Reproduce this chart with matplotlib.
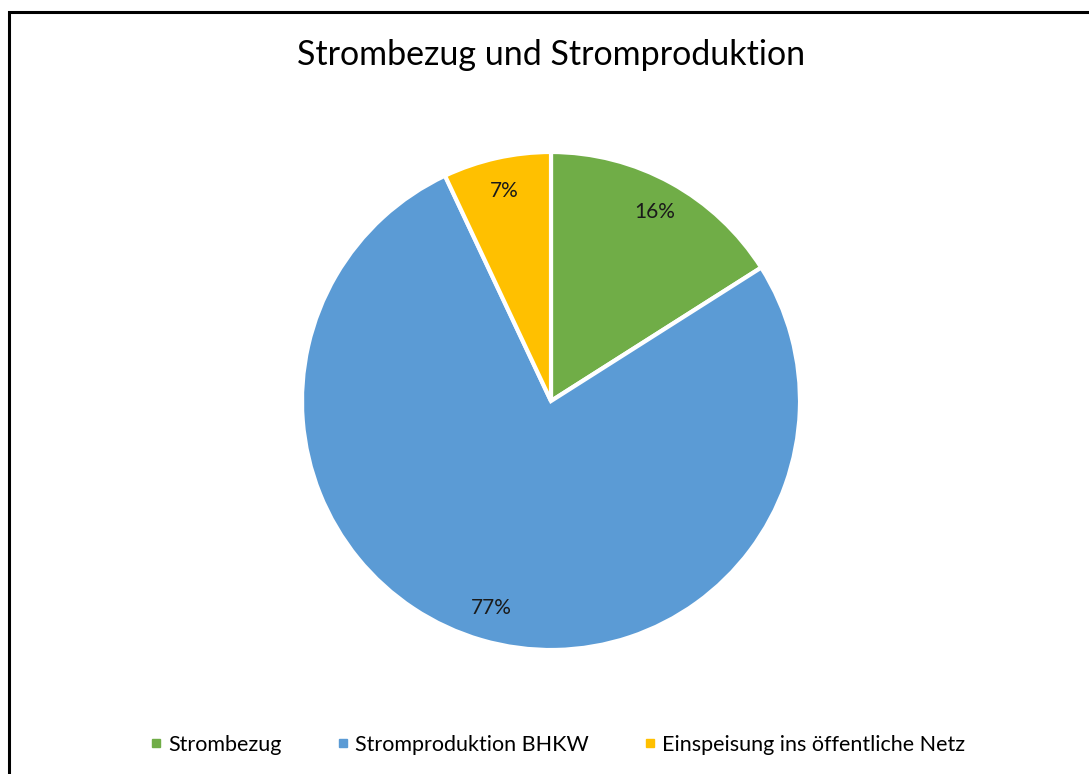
import matplotlib.pyplot as plt
from matplotlib.lines import Line2D
from matplotlib.patches import Rectangle

plt.rcParams['font.family'] = ['Lato', 'DejaVu Sans']

labels = ['Strombezug', 'Stromproduktion BHKW', 'Einspeisung ins öffentliche Netz']
values = [16, 77, 7]
colors = ['#70AD47', '#5B9BD5', '#FFC000']

W, H = 1089, 774
fig = plt.figure(figsize=(W / 100, H / 100), dpi=100)

# outer chart frame (cut off at right and bottom like the screenshot)
fig.patches.append(Rectangle((9 / W, -0.05), 1.2, 1 - 12 / H + 0.05,
                             transform=fig.transFigure, fill=False,
                             edgecolor='black', linewidth=2.2, clip_on=False))

r_px = 249
cx, cy = 551, 401
ax = fig.add_axes([(cx - r_px) / W, 1 - (cy + r_px) / H, 2 * r_px / W, 2 * r_px / H])

wedges, texts, autotexts = ax.pie(
    values, colors=colors, startangle=90, counterclock=False,
    autopct='%1.0f%%', pctdistance=0.865,
    wedgeprops=dict(edgecolor='white', linewidth=3),
    textprops=dict(fontsize=15, color='#1a1a1a'))
ax.set_xlim(-1, 1)
ax.set_ylim(-1, 1)

fig.text(cx / W, 1 - 55 / H, 'Strombezug und Stromproduktion',
         ha='center', va='center', fontsize=24.5, color='black')

handles = [Line2D([], [], marker='s', linestyle='none', markersize=6,
                  markerfacecolor=c, markeredgecolor=c) for c in colors]
fig.legend(handles, labels, loc='center', bbox_to_anchor=(558 / W, 1 - 745 / H),
           ncol=3, frameon=False, fontsize=15.5, handlelength=0.5,
           handletextpad=0.3, columnspacing=2.6)

fig.savefig('out.png', dpi=100)
